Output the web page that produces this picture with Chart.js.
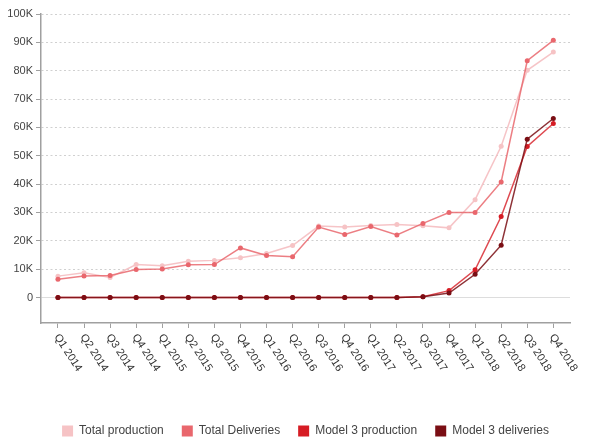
<!DOCTYPE html>
<html>
<head>
<meta charset="utf-8">
<script src="https://cdn.jsdelivr.net/npm/chart.js@4.4.1/dist/chart.umd.min.js"></script>
<style>
  html, body { margin: 0; padding: 0; background: #ffffff; }
  #wrap { width: 600px; height: 447px; position: relative; }
</style>
</head>
<body>
<div id="wrap"><canvas id="c" width="600" height="447"></canvas></div>
<script>
const quarters = ['Q1 2014','Q2 2014','Q3 2014','Q4 2014','Q1 2015','Q2 2015','Q3 2015','Q4 2015','Q1 2016','Q2 2016','Q3 2016','Q4 2016','Q1 2017','Q2 2017','Q3 2017','Q4 2017','Q1 2018','Q2 2018','Q3 2018','Q4 2018'];
const totalProduction = [7535, 8763, 7075, 11627, 11160, 12807, 13091, 14037, 15510, 18345, 25185, 24882, 25418, 25708, 25336, 24565, 34494, 53339, 80142, 86555];
const totalDeliveries = [6457, 7579, 7785, 9834, 10045, 11532, 11603, 17478, 14820, 14402, 24821, 22252, 25051, 22026, 26137, 29967, 29980, 40768, 83500, 90700];
const model3Production = [0, 0, 0, 0, 0, 0, 0, 0, 0, 0, 0, 0, 0, 0, 260, 2425, 9766, 28578, 53239, 61394];
const model3Deliveries = [0, 0, 0, 0, 0, 0, 0, 0, 0, 0, 0, 0, 0, 0, 222, 1550, 8182, 18449, 55840, 63150];
const yTicks = [0, 10000, 20000, 30000, 40000, 50000, 60000, 70000, 80000, 90000, 100000];
const seriesNames = ['Total production', 'Total Deliveries', 'Model 3 production', 'Model 3 deliveries'];
const seriesColors = ['#f6c3c5', '#e9676d', '#d61c24', '#7a0e14'];
const seriesLineColors = ['rgba(245,190,193,0.9)', 'rgba(233,103,109,0.85)', 'rgba(214,28,36,0.8)', 'rgba(122,14,20,0.85)'];

const FONT = '"Liberation Sans", Arial, sans-serif';

function toPoints(arr) { return arr.map((v, i) => ({ x: i, y: v })); }

const allSeries = [totalProduction, totalDeliveries, model3Production, model3Deliveries];
const datasets = allSeries.map((arr, k) => ({
  label: seriesNames[k],
  data: toPoints(arr),
  borderColor: seriesLineColors[k],
  backgroundColor: seriesColors[k],
  pointBackgroundColor: seriesColors[k],
  pointBorderColor: seriesColors[k],
  borderWidth: 1.5,
  pointRadius: 2.5,
  pointBorderWidth: 0,
  tension: 0,
  fill: false,
  order: 4 - k
}));

const xLabelPlugin = {
  id: 'xLabels',
  afterDraw(chart) {
    const xs = chart.scales.x;
    const ctx = chart.ctx;
    ctx.save();
    ctx.font = '11px ' + FONT;
    ctx.fillStyle = '#333333';
    ctx.textAlign = 'left';
    ctx.textBaseline = 'middle';
    quarters.forEach((q, i) => {
      const x = xs.getPixelForValue(i);
      ctx.save();
      ctx.translate(x - 1.5, xs.top + 12);
      ctx.rotate(57 * Math.PI / 180);
      ctx.fillText(q, 0, 0);
      ctx.restore();
    });
    ctx.restore();
  }
};

new Chart(document.getElementById('c'), {
  type: 'line',
  data: { datasets },
  plugins: [xLabelPlugin],
  options: {
    responsive: false,
    animation: false,
    layout: { padding: { top: 14, right: 30, left: 0, bottom: 0 } },
    plugins: {
      tooltip: { enabled: false },
      legend: {
        position: 'bottom',
        fullSize: false,
        labels: {
          boxWidth: 11,
          boxHeight: 11,
          padding: 18,
          color: '#444444',
          font: { family: FONT, size: 12 },
          sort: (a, b) => a.datasetIndex - b.datasetIndex,
          generateLabels(chart) {
            const items = Chart.defaults.plugins.legend.labels.generateLabels(chart);
            items.forEach(it => { it.lineWidth = 0; it.fillStyle = seriesColors[it.datasetIndex]; it.strokeStyle = it.fillStyle; });
            return items;
          }
        }
      }
    },
    scales: {
      x: {
        type: 'linear',
        min: -0.65,
        max: 19.64,
        afterBuildTicks(scale) { scale.ticks = quarters.map((_, i) => ({ value: i })); },
        afterFit(scale) { scale.height = 84; },
        ticks: { display: false },
        grid: { drawOnChartArea: false, drawTicks: true, tickLength: 5, tickColor: '#a0a0a0', tickWidth: 1 },
        border: { display: true, color: '#a0a0a0', width: 1.5 }
      },
      y: {
        min: -9000,
        max: 100000,
        afterBuildTicks(scale) { scale.ticks = yTicks.map(v => ({ value: v })); },
        afterFit(scale) { scale.width = 41; },
        ticks: {
          padding: 3,
          color: '#444444',
          font: { family: FONT, size: 11 },
          callback: v => v === 0 ? '0' : (v / 1000) + 'K'
        },
        grid: {
          color: ctx => (ctx.tick && ctx.tick.value === 0) ? '#dddddd' : '#d0d0d0',
          lineWidth: 1,
          tickLength: 5,
          tickColor: '#a0a0a0',
          tickWidth: 1,
          tickBorderDash: []
        },
        border: {
          display: true,
          color: '#a0a0a0',
          width: 1.5,
          dash: ctx => (ctx.tick && ctx.tick.value === 0) ? [] : [2, 2.5]
        }
      }
    }
  }
});
</script>
</body>
</html>
